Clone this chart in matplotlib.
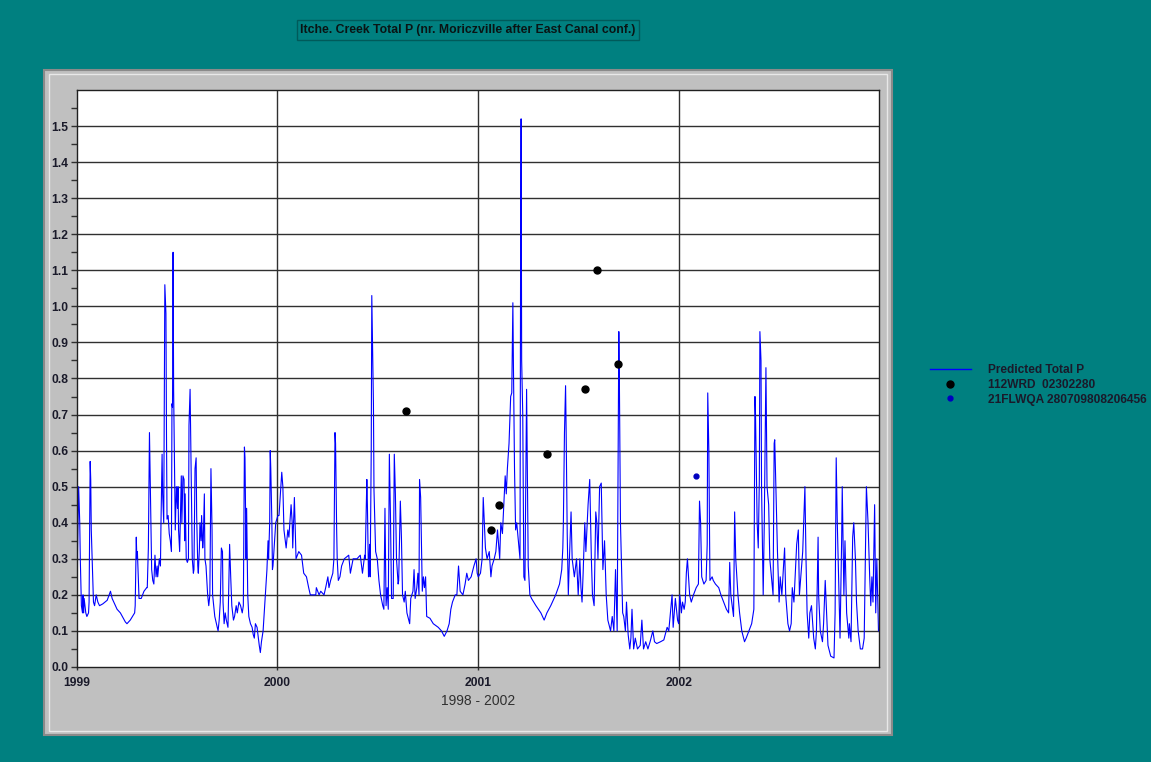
import matplotlib
matplotlib.use('Agg')
import matplotlib.pyplot as plt
from matplotlib.patches import Rectangle
from matplotlib.lines import Line2D

# predicted total P, (day since 1999-01-01, mg/L)
pred_1999 = [(0, 0.03), (1, 0.32), (3, 0.5), (5, 0.4), (6, 0.3), (8, 0.17), (10, 0.15), (11, 0.2), (12, 0.15),
             (13, 0.19), (16, 0.15), (18, 0.14), (21, 0.15), (22, 0.18), (24, 0.57), (25, 0.52), (26, 0.38),
             (29, 0.23), (30, 0.18), (32, 0.17), (35, 0.2), (38, 0.18), (41, 0.17), (47, 0.175), (55, 0.185),
             (61, 0.21), (64, 0.19), (73, 0.16), (79, 0.15), (88, 0.125), (91, 0.12), (97, 0.13), (105, 0.15),
             (106, 0.17), (108, 0.36), (109, 0.3), (110, 0.32), (113, 0.19), (117, 0.19), (122, 0.21), (127, 0.22),
             (128, 0.22), (130, 0.33), (131, 0.5), (132, 0.65), (134, 0.45), (136, 0.27), (138, 0.24), (140, 0.23),
             (142, 0.31), (144, 0.25), (146, 0.28), (147, 0.25), (150, 0.3), (152, 0.28), (153, 0.4), (155, 0.59),
             (156, 0.48), (158, 0.4), (160, 1.06), (162, 0.98), (163, 0.65), (164, 0.41), (166, 0.42), (168, 0.37),
             (170, 0.35), (172, 0.32), (173, 0.73), (174, 0.72), (175, 1.15), (176, 0.77), (178, 0.5), (179, 0.38),
             (181, 0.5), (183, 0.44), (184, 0.5), (185, 0.38), (187, 0.32), (190, 0.53), (191, 0.4), (193, 0.53),
             (195, 0.52), (196, 0.35), (197, 0.48), (199, 0.3), (201, 0.29), (203, 0.3), (204, 0.67), (206, 0.77),
             (208, 0.53), (210, 0.3), (212, 0.26), (213, 0.27), (215, 0.55), (217, 0.58), (218, 0.42), (220, 0.28),
             (221, 0.26), (223, 0.33), (224, 0.4), (226, 0.35), (227, 0.42), (229, 0.33), (230, 0.35), (232, 0.48),
             (233, 0.3), (235, 0.28), (238, 0.2), (240, 0.17), (242, 0.2), (244, 0.55), (246, 0.38), (247, 0.2),
             (249, 0.17), (251, 0.14), (254, 0.12), (257, 0.1), (259, 0.13), (261, 0.18), (263, 0.33), (265, 0.32),
             (266, 0.18), (268, 0.12), (270, 0.15), (272, 0.13), (275, 0.11), (278, 0.34), (280, 0.25), (282, 0.17),
             (285, 0.13), (287, 0.14), (290, 0.17), (292, 0.15), (295, 0.18), (298, 0.17), (301, 0.15), (303, 0.17),
             (305, 0.61), (306, 0.58), (308, 0.3), (309, 0.44), (311, 0.2), (313, 0.14), (316, 0.12), (319, 0.11),
             (321, 0.09), (323, 0.08), (325, 0.12), (328, 0.11), (332, 0.06), (334, 0.04), (336, 0.07), (339, 0.1),
             (341, 0.15), (344, 0.22), (346, 0.27), (348, 0.35), (349, 0.3), (351, 0.4), (352, 0.6), (353, 0.55),
             (355, 0.4), (356, 0.27), (357, 0.28), (362, 0.4)]
pred_2000 = [(366, 0.42), (368, 0.42), (373, 0.54), (375, 0.5), (377, 0.38), (381, 0.33), (384, 0.38), (386, 0.36),
             (390, 0.45), (392, 0.4), (393, 0.33), (396, 0.47), (399, 0.3), (404, 0.32), (409, 0.31), (413, 0.26),
             (418, 0.25), (422, 0.22), (425, 0.2), (435, 0.2), (436, 0.22), (441, 0.2), (444, 0.21), (450, 0.2),
             (453, 0.22), (457, 0.25), (459, 0.22), (462, 0.24), (466, 0.26), (468, 0.3), (470, 0.65), (471, 0.62),
             (473, 0.38), (474, 0.3), (476, 0.24), (479, 0.25), (482, 0.28), (487, 0.3), (495, 0.31), (498, 0.26),
             (503, 0.3), (510, 0.3), (516, 0.31), (520, 0.26), (524, 0.31), (525, 0.3), (528, 0.52), (529, 0.45),
             (531, 0.25), (533, 0.34), (534, 0.25), (536, 0.6), (537, 1.03), (539, 0.84), (540, 0.73), (541, 0.49),
             (544, 0.32), (547, 0.3), (550, 0.24), (553, 0.2), (557, 0.17), (559, 0.16), (561, 0.44), (563, 0.17),
             (565, 0.22), (567, 0.16), (569, 0.59), (571, 0.42), (573, 0.19), (576, 0.19), (578, 0.59), (580, 0.48),
             (582, 0.3), (585, 0.23), (586, 0.24), (589, 0.46), (591, 0.36), (593, 0.2), (596, 0.18), (598, 0.21),
             (601, 0.15), (606, 0.12), (608, 0.19), (612, 0.21), (614, 0.27), (616, 0.19), (619, 0.22), (621, 0.26),
             (623, 0.2), (624, 0.52), (626, 0.47), (628, 0.3), (629, 0.21), (631, 0.25), (633, 0.22), (635, 0.25),
             (637, 0.14), (643, 0.135), (649, 0.12), (658, 0.11), (664, 0.1), (669, 0.085), (674, 0.1), (678, 0.12),
             (681, 0.16), (684, 0.18), (689, 0.2), (692, 0.2), (695, 0.28), (698, 0.21), (703, 0.2), (707, 0.23),
             (710, 0.26), (713, 0.24), (718, 0.25), (723, 0.28), (727, 0.3), (729, 0.26)]
pred_2001 = [(731, 0.25), (735, 0.26), (738, 0.3), (740, 0.47), (742, 0.4), (744, 0.33), (747, 0.3), (751, 0.32),
             (754, 0.25), (756, 0.28), (760, 0.3), (763, 0.32), (766, 0.38), (770, 0.3), (772, 0.4), (775, 0.37),
             (780, 0.53), (782, 0.48), (784, 0.55), (787, 0.62), (790, 0.75), (792, 0.76), (794, 1.01), (795, 0.84),
             (797, 0.55), (799, 0.38), (801, 0.4), (804, 0.35), (807, 0.3), (808, 1.07), (809, 1.52), (810, 0.85),
             (812, 0.7), (814, 0.25), (816, 0.24), (819, 0.77), (821, 0.42), (822, 0.28), (825, 0.2), (828, 0.19),
             (836, 0.17), (845, 0.15), (851, 0.13), (856, 0.15), (863, 0.17), (872, 0.2), (879, 0.23), (883, 0.27),
             (885, 0.33), (886, 0.4), (888, 0.65), (890, 0.78), (891, 0.66), (893, 0.37), (895, 0.2), (897, 0.3),
             (900, 0.43), (902, 0.3), (906, 0.25), (910, 0.3), (913, 0.2), (916, 0.3), (918, 0.22), (920, 0.18),
             (922, 0.26), (925, 0.4), (927, 0.32), (931, 0.45), (934, 0.52), (937, 0.3), (939, 0.2), (942, 0.17),
             (945, 0.43), (947, 0.4), (949, 0.3), (952, 0.5), (955, 0.51), (958, 0.27), (961, 0.35), (964, 0.2),
             (967, 0.13), (972, 0.1), (975, 0.14), (978, 0.1), (981, 0.27), (984, 0.1), (987, 0.93), (988, 0.8),
             (990, 0.4), (994, 0.15), (996, 0.14), (999, 0.1), (1001, 0.18), (1004, 0.09), (1007, 0.05), (1009, 0.08),
             (1011, 0.16), (1014, 0.05), (1017, 0.08), (1021, 0.05), (1026, 0.06), (1029, 0.13), (1032, 0.05),
             (1036, 0.07), (1040, 0.05), (1044, 0.07), (1049, 0.1), (1052, 0.07), (1056, 0.065), (1063, 0.07),
             (1069, 0.075), (1075, 0.11), (1078, 0.1), (1084, 0.2), (1086, 0.11), (1090, 0.19), (1094, 0.13)]
pred_2002 = [(1096, 0.12), (1098, 0.2), (1101, 0.15), (1103, 0.18), (1106, 0.16), (1108, 0.18), (1110, 0.26),
             (1112, 0.3), (1114, 0.25), (1116, 0.2), (1119, 0.18), (1123, 0.2), (1128, 0.22), (1132, 0.23),
             (1134, 0.46), (1136, 0.4), (1138, 0.25), (1142, 0.23), (1146, 0.24), (1148, 0.34), (1149, 0.76),
             (1151, 0.6), (1153, 0.24), (1157, 0.25), (1159, 0.24), (1163, 0.23), (1169, 0.22), (1173, 0.2),
             (1178, 0.18), (1183, 0.16), (1187, 0.15), (1189, 0.29), (1191, 0.2), (1196, 0.14), (1198, 0.43),
             (1200, 0.3), (1204, 0.2), (1207, 0.15), (1211, 0.1), (1216, 0.07), (1219, 0.08), (1224, 0.1),
             (1229, 0.12), (1233, 0.16), (1235, 0.75), (1236, 0.7), (1239, 0.4), (1241, 0.33), (1243, 0.52),
             (1244, 0.93), (1246, 0.85), (1247, 0.5), (1250, 0.2), (1252, 0.4), (1255, 0.83), (1257, 0.5),
             (1260, 0.45), (1262, 0.3), (1265, 0.25), (1268, 0.2), (1270, 0.62), (1271, 0.63), (1274, 0.45),
             (1276, 0.32), (1279, 0.18), (1281, 0.25), (1284, 0.2), (1289, 0.33), (1291, 0.2), (1295, 0.12),
             (1298, 0.1), (1301, 0.12), (1303, 0.22), (1306, 0.18), (1311, 0.34), (1314, 0.38), (1316, 0.2),
             (1322, 0.32), (1326, 0.5), (1328, 0.3), (1330, 0.15), (1333, 0.08), (1335, 0.15), (1338, 0.17),
             (1342, 0.08), (1345, 0.05), (1347, 0.1), (1350, 0.36), (1351, 0.2), (1354, 0.1), (1358, 0.07),
             (1360, 0.12), (1363, 0.24), (1365, 0.17), (1368, 0.06), (1373, 0.03), (1379, 0.025), (1381, 0.15),
             (1383, 0.58), (1385, 0.4), (1388, 0.2), (1390, 0.08), (1393, 0.36), (1394, 0.5), (1397, 0.2),
             (1399, 0.35), (1402, 0.15), (1406, 0.08), (1407, 0.12), (1410, 0.07), (1413, 0.36), (1415, 0.4),
             (1418, 0.3), (1420, 0.18), (1423, 0.1), (1427, 0.05), (1431, 0.05), (1434, 0.08), (1436, 0.3),
             (1438, 0.5), (1441, 0.4), (1444, 0.25), (1446, 0.17), (1448, 0.25), (1450, 0.18), (1453, 0.45),
             (1455, 0.15), (1457, 0.3), (1460, 0.1)]

# observed samples
wrd_day = [599, 754, 768, 857, 925, 948, 985]
wrd_tp = [0.71, 0.38, 0.45, 0.59, 0.77, 1.10, 0.84]
flwqa_day = [1127]
flwqa_tp = [0.53]

year_day = [0, 365, 731, 1096]
year_labels = ['1999', '2000', '2001', '2002']
end_day = 1461

title = 'Itche. Creek Total P (nr. Moriczville after East Canal conf.)'
teal = '#008080'
font = 'Liberation Sans'
ink = '#1a1a2a'

pred = pred_1999 + pred_2000 + pred_2001 + pred_2002
pred_day = [p[0] for p in pred]
pred_tp = [p[1] for p in pred]

fig = plt.figure(figsize=(11.51, 7.62), dpi=100, facecolor=teal)

# grey chart panel with a raised border
fig.patches.append(Rectangle((0.0382, 0.0354), 0.7368, 0.8727, transform=fig.transFigure,
                             facecolor='#c0c0c0', edgecolor='#8a8a8a', lw=1.5, zorder=-2))
fig.patches.append(Rectangle((0.0425, 0.0405), 0.7285, 0.8625, transform=fig.transFigure,
                             facecolor='none', edgecolor='#e8e8e8', lw=1.0, zorder=-1))

ax = fig.add_axes([0.0669, 0.1247, 0.6968, 0.7572])
ax.set_zorder(2)
ax.set_facecolor('white')

for v in [i / 10 for i in range(1, 16)]:
    ax.axhline(v, color='#303030', lw=1.0, zorder=1)
for d in year_day[1:]:
    ax.axvline(d, color='#303030', lw=1.0, zorder=1)

ax.plot(pred_day, pred_tp, color='#0000ff', lw=0.8, zorder=2)
ax.plot(wrd_day, wrd_tp, 'o', color='black', ms=5, zorder=3)
ax.plot(flwqa_day, flwqa_tp, 'o', color='#0000c0', ms=3.5, zorder=3)

ax.set_xlim(0, end_day)
ax.set_ylim(0, 1.6)
ax.set_xticks(year_day)
ax.set_xticklabels(year_labels)
ax.set_yticks([i / 10 for i in range(16)])
ax.set_yticklabels(['%.1f' % (i / 10) for i in range(16)])
ax.set_yticks([i / 20 for i in range(1, 32, 2)], minor=True)
ax.tick_params(axis='y', which='both', direction='out', length=4, width=1, color='#303030', pad=2)
ax.tick_params(axis='x', direction='out', length=2, width=1, color='#303030', pad=5)
for lab in ax.get_xticklabels() + ax.get_yticklabels():
    lab.set_fontfamily(font)
    lab.set_fontweight('bold')
    lab.set_fontsize(8.7)
    lab.set_color(ink)
for s in ax.spines.values():
    s.set_color('#202020')
    s.set_linewidth(1.0)

ax.set_xlabel('1998 - 2002', fontfamily=font, fontsize=10, color='#303030', labelpad=4)

fig.text(0.4066, 0.9606, title, ha='center', va='center', fontfamily=font, fontweight='bold',
         fontsize=8.8, color='#0a1414',
         bbox=dict(boxstyle='square,pad=0.3', facecolor=teal, edgecolor='#005a5a', lw=1))

handles = [Line2D([], [], color='#0000ff', lw=1),
           Line2D([], [], ls='none', marker='o', color='black', ms=5),
           Line2D([], [], ls='none', marker='o', color='#0000c0', ms=3.5)]
labels = ['Predicted Total P', '112WRD  02302280', '21FLWQA 280709808206456']
leg = fig.legend(handles, labels, loc='upper left', bbox_to_anchor=(0.7987, 0.536), frameon=False,
                 handlelength=3.4, handletextpad=1.45, labelspacing=0.22,
                 prop={'family': font, 'weight': 'bold', 'size': 8.6})
for t in leg.get_texts():
    t.set_color(ink)

fig.savefig('out.png', dpi=100, facecolor=teal)
